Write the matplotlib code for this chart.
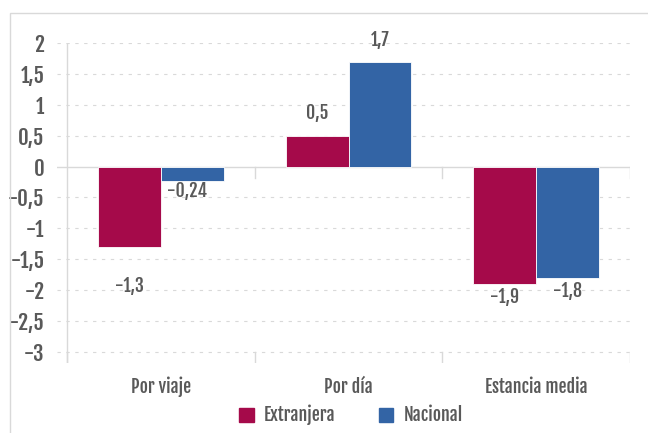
import matplotlib
matplotlib.use("Agg")
import matplotlib.pyplot as plt
import numpy as np
from matplotlib.patches import Rectangle

categories = ["Por viaje", "Por día", "Estancia media"]
series_names = ["Extranjera", "Nacional"]
extranjera = [-1.3, 0.5, -1.9]
nacional = [-0.24, 1.7, -1.8]
labels_ext = ["-1,3", "0,5", "-1,9"]
labels_nac = ["-0,24", "1,7", "-1,8"]
yticks = [2, 1.5, 1, 0.5, 0, -0.5, -1, -1.5, -2, -2.5, -3]
ytick_labels = ["2", "1,5", "1", "0,5", "0", "-0,5", "-1", "-1,5", "-2", "-2,5", "-3"]

c_ext = "#A50A4A"
c_nac = "#3364A5"
txt = "#595959"
grid_c = "#D9D9D9"

plt.rcParams['font.family'] = ['Fjalla One', 'Oswald', 'DejaVu Sans']
FW = 'normal'

W, H = 648, 433
fig = plt.figure(figsize=(W / 100, H / 100), dpi=100)

# figure frame
fig.patches.append(Rectangle((10 / W, -0.01), 1.0, 1 - 13 / H + 0.01, transform=fig.transFigure,
                             fill=False, edgecolor="#D9D9D9", linewidth=1.0))

left_px, right_px = 57, 630
top_px, bot_px = 43, 363
ax = fig.add_axes([left_px / W, 1 - bot_px / H, (right_px - left_px) / W, (bot_px - top_px) / H])

n = len(categories)
cat_w = (right_px - 67) / n  # px per category
off = 10 / cat_w
ax.set_xlim(-0.5 - off, n - 0.5)
ymin = -3 - 11 / 61.8
ax.set_ylim(ymin, 2)

x = np.arange(n)
bw = 0.335
ax.bar(x - bw / 2, extranjera, bw, color=c_ext, edgecolor="white", linewidth=0.6, zorder=3, label=series_names[0])
ax.bar(x + bw / 2, nacional, bw, color=c_nac, edgecolor="white", linewidth=0.6, zorder=3, label=series_names[1])

# gridlines
for yv in yticks:
    if yv == 0:
        ax.axhline(0, color=grid_c, linewidth=1.0, zorder=2)
    else:
        ax.axhline(yv, color=grid_c, linewidth=0.8, linestyle=(0, (3, 5)), zorder=1)

# left axis line
ax.axvline(-0.5, color=grid_c, linewidth=1.0, zorder=2)
# category ticks at zero line and at bottom
tick_len = 11 / 61.8
for b in np.arange(n + 1) - 0.5:
    if b > -0.5:
        ax.plot([b, b], [0, -tick_len], color=grid_c, linewidth=1.0, zorder=2)
    ax.plot([b, b], [-3, -3 - tick_len], color=grid_c, linewidth=1.0, zorder=2)

for s in ax.spines.values():
    s.set_visible(False)
ax.set_yticks(yticks)
ax.set_yticklabels(ytick_labels, fontsize=15, color=txt, fontweight=FW)
ax.tick_params(axis='y', length=0, pad=9)
ax.set_xticks(x)
ax.set_xticklabels(categories, fontsize=12.8, color=txt, fontweight=FW)
ax.tick_params(axis='x', length=0, pad=10)

fs = 12.8
def lab(s, xv, yv, dx, dy, va):
    ax.annotate(s, (xv, yv), xytext=(dx, dy), textcoords="offset points",
                ha='center', va=va, fontsize=fs, color=txt, fontweight=FW)

for i in range(n):
    ve, vn = extranjera[i], nacional[i]
    if ve >= 0:
        lab(labels_ext[i], x[i] - bw / 2, ve, 0, 9, 'bottom')
    else:
        lab(labels_ext[i], x[i] - bw / 2, ve, 0, -21 if i == 0 else -2, 'top')
    if vn >= 0:
        lab(labels_nac[i], x[i] + bw / 2, vn, 0, 8, 'bottom')
    elif i == 0:
        lab(labels_nac[i], x[i] + bw / 2, vn, -4, 0, 'top')
    else:
        lab(labels_nac[i], x[i] + bw / 2, vn, 0, -2, 'top')

handles = [Rectangle((0, 0), 1, 1, color=c_ext), Rectangle((0, 0), 1, 1, color=c_nac)]
leg = fig.legend(handles, series_names, loc='center', bbox_to_anchor=(351 / W, 1 - 415 / H), ncol=2,
                 frameon=False, fontsize=12.8, handlelength=0.8, handleheight=0.8,
                 columnspacing=2.4, handletextpad=0.6)
for t in leg.get_texts():
    t.set_color(txt)
    t.set_fontweight(FW)

fig.savefig("out.png", dpi=100)
